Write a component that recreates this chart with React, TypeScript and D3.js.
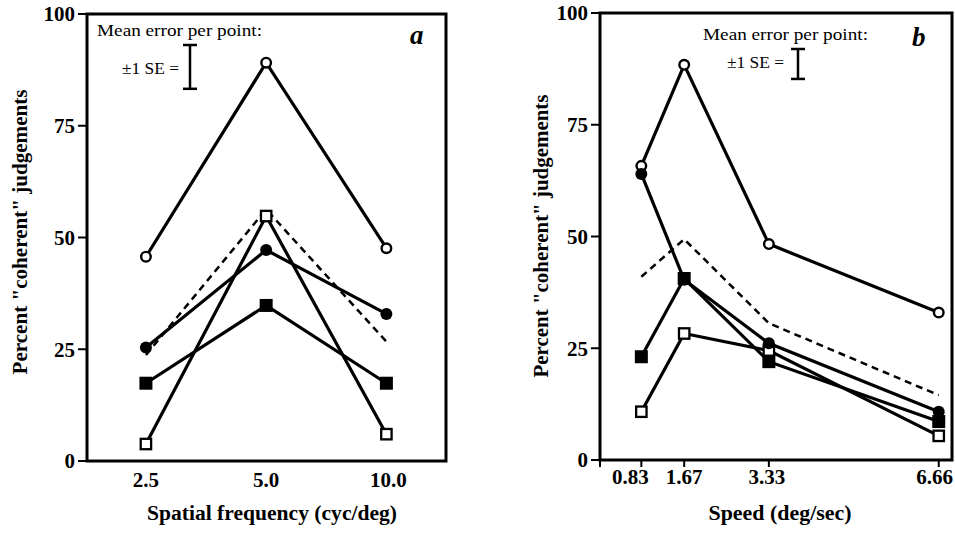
import React from 'react';
import * as d3 from 'd3';

// Panel a: spatial frequency
const freqValues = [2.5, 5.0, 10.0];
const freqTickLabels = ['2.5', '5.0', '10.0'];
const aOpenCircle = [45.7, 89.1, 47.6];
const aFilledCircle = [25.4, 47.2, 32.9];
const aFilledSquare = [17.4, 34.8, 17.4];
const aOpenSquare = [3.8, 54.8, 6.0];
const aDashed = [23.7, 56.3, 26.7];
const aSE = 9.8;

// Panel b: speed
const speedValues = [0.83, 1.67, 3.33, 6.66];
const speedTickLabels = ['0.83', '1.67', '3.33', '6.66'];
const bOpenCircle = [65.8, 88.4, 48.3, 33.0];
const bFilledCircle = [64.0, 40.3, 26.1, 10.8];
const bFilledSquare = [23.1, 40.6, 22.0, 8.6];
const bOpenSquare = [10.8, 28.3, 24.5, 5.4];
const bDashed = [41.0, 49.4, 30.6, 14.5];
const bSE = 6.7;

const yTicks = [0, 25, 50, 75, 100];

const FONT = '"Liberation Serif", "Times New Roman", serif';

type Series = { values: number[]; marker: 'openCircle' | 'filledCircle' | 'filledSquare' | 'openSquare' | 'none'; dashed?: boolean };

type PanelProps = {
  x: (v: number) => number;
  y: d3.ScaleLinear<number, number>;
  xs: number[];
  tickLabels: string[];
  labelDx: number[];
  showXTicks: boolean;
  series: Series[];
  frame: { left: number; right: number; top: number; bottom: number };
  yLabelX: number;
  yLabelY: number;
  yLabelLen: number;
  xLabel: string;
  xLabelX: number;
  xLabelLen: number;
  tickLabelY: number;
  letter: string;
  letterX: number;
  letterY: number;
  noteX: number;
  noteY: number;
  seTextX: number;
  seTextY: number;
  seX: number;
  seTop: number;
  se: number;
};

const Marker = ({ kind, cx, cy }: { kind: Series['marker']; cx: number; cy: number }) => {
  if (kind === 'openCircle') return <circle cx={cx} cy={cy} r={4.8} fill="#fff" stroke="#000" strokeWidth={2.4} />;
  if (kind === 'filledCircle') return <circle cx={cx} cy={cy} r={6} fill="#000" />;
  if (kind === 'filledSquare') return <rect x={cx - 6.5} y={cy - 6.5} width={13} height={13} fill="#000" />;
  if (kind === 'openSquare') return <rect x={cx - 5.2} y={cy - 5.2} width={10.4} height={10.4} fill="#fff" stroke="#000" strokeWidth={2.3} />;
  return null;
};

const Panel = (p: PanelProps) => {
  const line = d3.line<number>().x((_, i) => p.x(p.xs[i])).y(d => p.y(d));
  const f = p.frame;
  const seLen = p.y(0) - p.y(p.se);
  return (
    <g>
      {/* frame */}
      <rect x={f.left} y={f.top} width={f.right - f.left} height={f.bottom - f.top} fill="none" stroke="#000" strokeWidth={3} />
      {/* y ticks */}
      {yTicks.map(t => (
        <g key={t}>
          <line x1={f.left - 9} x2={f.left} y1={p.y(t)} y2={p.y(t)} stroke="#000" strokeWidth={2} />
          <text x={f.left - 12} y={p.y(t)} dy="0.35em" textAnchor="end" fontFamily={FONT} fontWeight="bold" fontSize={21}>{t}</text>
        </g>
      ))}
      {/* x ticks */}
      {p.xs.map((v, i) => (
        <g key={v}>
          {p.showXTicks && <line x1={p.x(v)} x2={p.x(v)} y1={f.bottom} y2={f.bottom + 7} stroke="#000" strokeWidth={2} />}
          <text x={p.x(v) + p.labelDx[i]} y={p.tickLabelY} textAnchor="middle" fontFamily={FONT} fontWeight="bold" fontSize={21}>{p.tickLabels[i]}</text>
        </g>
      ))}
      {p.showXTicks && <line x1={f.left} x2={f.left} y1={f.bottom} y2={f.bottom + 7} stroke="#000" strokeWidth={2} />}
      {/* axis labels */}
      <text transform={`translate(${p.yLabelX},${p.yLabelY}) rotate(-90)`} textAnchor="middle" fontFamily={FONT} fontWeight="bold" fontSize={20}
        textLength={p.yLabelLen} lengthAdjust="spacingAndGlyphs">Percent "coherent" judgements</text>
      <text x={p.xLabelX} y={520} textAnchor="middle" fontFamily={FONT} fontWeight="bold" fontSize={20}
        textLength={p.xLabelLen} lengthAdjust="spacingAndGlyphs">{p.xLabel}</text>
      {/* lines */}
      {p.series.map((s, i) => (
        <path key={i} d={line(s.values) || ''} fill="none" stroke="#000" strokeWidth={s.dashed ? 2.5 : 3.2} strokeDasharray={s.dashed ? '7,5' : undefined} />
      ))}
      {/* markers */}
      {p.series.map((s, i) => s.values.map((v, j) => <Marker key={`${i}-${j}`} kind={s.marker} cx={p.x(p.xs[j])} cy={p.y(v)} />))}
      {/* SE note */}
      <text x={p.noteX} y={p.noteY} fontFamily={FONT} fontSize={17} textLength={165} lengthAdjust="spacingAndGlyphs">Mean error per point:</text>
      <text x={p.seTextX} y={p.seTextY} fontFamily={FONT} fontSize={17} textLength={57} lengthAdjust="spacingAndGlyphs">±1 SE =</text>
      <line x1={p.seX} x2={p.seX} y1={p.seTop} y2={p.seTop + seLen} stroke="#000" strokeWidth={2.5} />
      <line x1={p.seX - 7} x2={p.seX + 7} y1={p.seTop} y2={p.seTop} stroke="#000" strokeWidth={2.5} />
      <line x1={p.seX - 7} x2={p.seX + 7} y1={p.seTop + seLen} y2={p.seTop + seLen} stroke="#000" strokeWidth={2.5} />
      <text x={p.letterX} y={p.letterY} fontFamily={FONT} fontWeight="bold" fontStyle="italic" fontSize={27}>{p.letter}</text>
    </g>
  );
};

export default function App() {
  const xA = d3.scaleLog().domain([1.78, 14.1]).range([87, 446]);
  const yA = d3.scaleLinear().domain([0, 100]).range([461, 14]);
  const xB = d3.scaleLinear().domain([0, 6.92]).range([599, 952]);
  const yB = d3.scaleLinear().domain([0, 100]).range([460, 13]);

  const seriesA: Series[] = [
    { values: aDashed, marker: 'none', dashed: true },
    { values: aOpenCircle, marker: 'openCircle' },
    { values: aFilledCircle, marker: 'filledCircle' },
    { values: aFilledSquare, marker: 'filledSquare' },
    { values: aOpenSquare, marker: 'openSquare' },
  ];
  const seriesB: Series[] = [
    { values: bDashed, marker: 'none', dashed: true },
    { values: bOpenCircle, marker: 'openCircle' },
    { values: bOpenSquare, marker: 'openSquare' },
    { values: bFilledCircle, marker: 'filledCircle' },
    { values: bFilledSquare, marker: 'filledSquare' },
  ];

  return (
    <svg width={955} height={533} style={{ position: 'absolute', left: 0, top: 0, background: '#fff' }}>
      <Panel
        x={v => xA(v)} y={yA} xs={freqValues} tickLabels={freqTickLabels} labelDx={[0, 0, 2]} showXTicks={false}
        series={seriesA} frame={{ left: 87, right: 446, top: 14, bottom: 461 }}
        yLabelX={27} yLabelY={232} yLabelLen={285}
        xLabel="Spatial frequency (cyc/deg)" xLabelX={272} xLabelLen={250} tickLabelY={487}
        letter="a" letterX={410} letterY={44}
        noteX={97} noteY={36} seTextX={122} seTextY={74} seX={190} seTop={45} se={aSE}
      />
      <Panel
        x={v => xB(v)} y={yB} xs={speedValues} tickLabels={speedTickLabels} labelDx={[-11, 0, -2, -4]} showXTicks={true}
        series={seriesB} frame={{ left: 600, right: 952, top: 13, bottom: 460 }}
        yLabelX={548} yLabelY={236} yLabelLen={283}
        xLabel="Speed (deg/sec)" xLabelX={780} xLabelLen={143} tickLabelY={484}
        letter="b" letterX={912} letterY={46}
        noteX={703} noteY={40} seTextX={727} seTextY={68} seX={798} seTop={49} se={bSE}
      />
    </svg>
  );
}
